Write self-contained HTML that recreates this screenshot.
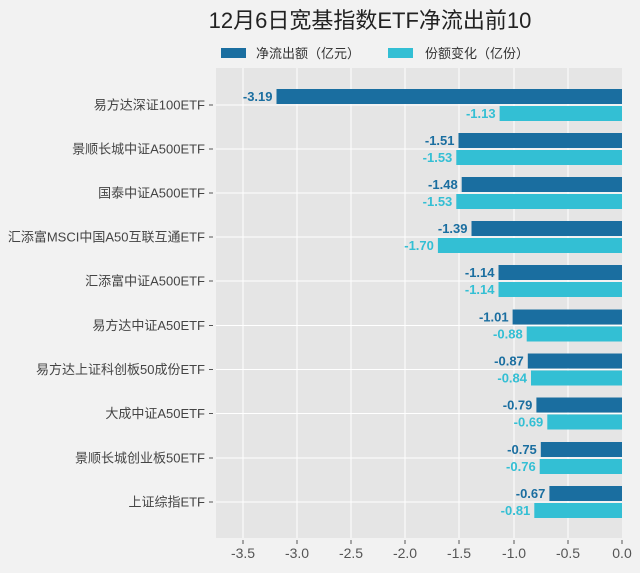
<!DOCTYPE html>
<html><head><meta charset="utf-8"><style>
body{margin:0;background:#f2f2f2}
svg{display:block;font-family:"Liberation Sans","Noto Sans CJK SC",sans-serif}
.l{font-size:13px;fill:#444;text-anchor:end}
.d{font-size:13px;font-weight:bold;fill:#1a6ea0;text-anchor:end}
.b{font-size:13px;font-weight:bold;fill:#33bfd4;text-anchor:end}
</style></head><body>
<svg width="640" height="573" viewBox="0 0 640 573">
<rect width="640" height="573" fill="#f2f2f2"/>
<text x="370" y="28" text-anchor="middle" font-size="22" fill="#222">12月6日宽基指数ETF净流出前10</text>
<rect x="221" y="48" width="25" height="10" fill="#1a6ea0"/>
<text x="256" y="58" font-size="13" fill="#333">净流出额（亿元）</text>
<rect x="388" y="48" width="25" height="10" fill="#33bfd4"/>
<text x="425" y="58" font-size="13" fill="#333">份额变化（亿份）</text>
<rect x="216" y="68" width="406" height="470" fill="#e5e5e5"/>
<g stroke="#fff" stroke-width="1">
<line x1="243" y1="68" x2="243" y2="538"/><line x1="297" y1="68" x2="297" y2="538"/>
<line x1="351" y1="68" x2="351" y2="538"/><line x1="405" y1="68" x2="405" y2="538"/>
<line x1="459" y1="68" x2="459" y2="538"/><line x1="514" y1="68" x2="514" y2="538"/>
<line x1="568" y1="68" x2="568" y2="538"/>
<line x1="216" y1="105" x2="622" y2="105"/><line x1="216" y1="149" x2="622" y2="149"/>
<line x1="216" y1="193" x2="622" y2="193"/><line x1="216" y1="237" x2="622" y2="237"/>
<line x1="216" y1="281" x2="622" y2="281"/><line x1="216" y1="325.5" x2="622" y2="325.5"/>
<line x1="216" y1="369.5" x2="622" y2="369.5"/><line x1="216" y1="413.5" x2="622" y2="413.5"/>
<line x1="216" y1="458" x2="622" y2="458"/><line x1="216" y1="502" x2="622" y2="502"/>
</g>
<g stroke="#555">
<line x1="209" y1="105" x2="213" y2="105"/><line x1="209" y1="149" x2="213" y2="149"/>
<line x1="209" y1="193" x2="213" y2="193"/><line x1="209" y1="237" x2="213" y2="237"/>
<line x1="209" y1="281" x2="213" y2="281"/><line x1="209" y1="325.5" x2="213" y2="325.5"/>
<line x1="209" y1="369.5" x2="213" y2="369.5"/><line x1="209" y1="413.5" x2="213" y2="413.5"/>
<line x1="209" y1="458" x2="213" y2="458"/><line x1="209" y1="502" x2="213" y2="502"/>
</g>
<text class="l" x="205" y="109.5">易方达深证100ETF</text>
<text class="l" x="205" y="153.5">景顺长城中证A500ETF</text>
<text class="l" x="205" y="197.5">国泰中证A500ETF</text>
<text class="l" x="205" y="241.5">汇添富MSCI中国A50互联互通ETF</text>
<text class="l" x="205" y="285.5">汇添富中证A500ETF</text>
<text class="l" x="205" y="330">易方达中证A50ETF</text>
<text class="l" x="205" y="374">易方达上证科创板50成份ETF</text>
<text class="l" x="205" y="418">大成中证A50ETF</text>
<text class="l" x="205" y="462.5">景顺长城创业板50ETF</text>
<text class="l" x="205" y="506.5">上证综指ETF</text>
<g fill="#1a6ea0">
<rect x="276.5" y="89" width="345.5" height="15"/>
<rect x="458.5" y="133" width="163.5" height="15"/>
<rect x="461.7" y="177" width="160.3" height="15"/>
<rect x="471.5" y="221" width="150.5" height="15"/>
<rect x="498.5" y="265" width="123.5" height="15"/>
<rect x="512.6" y="309.5" width="109.4" height="15"/>
<rect x="527.8" y="353.5" width="94.2" height="15"/>
<rect x="536.4" y="397.5" width="85.6" height="15"/>
<rect x="540.8" y="442" width="81.2" height="15"/>
<rect x="549.4" y="486" width="72.6" height="15"/>
</g>
<g fill="#33bfd4">
<rect x="499.6" y="106" width="122.4" height="15"/>
<rect x="456.3" y="150" width="165.7" height="15"/>
<rect x="456.3" y="194" width="165.7" height="15"/>
<rect x="437.9" y="238" width="184.1" height="15"/>
<rect x="498.5" y="282" width="123.5" height="15"/>
<rect x="526.7" y="326.5" width="95.3" height="15"/>
<rect x="531" y="370.5" width="91" height="15"/>
<rect x="547.3" y="414.5" width="74.7" height="15"/>
<rect x="539.7" y="459" width="82.3" height="15"/>
<rect x="534.3" y="503" width="87.7" height="15"/>
</g>
<text class="d" x="272.5" y="101">-3.19</text>
<text class="d" x="454.5" y="145">-1.51</text>
<text class="d" x="457.7" y="189">-1.48</text>
<text class="d" x="467.5" y="233">-1.39</text>
<text class="d" x="494.5" y="277">-1.14</text>
<text class="d" x="508.6" y="321.5">-1.01</text>
<text class="d" x="523.8" y="365.5">-0.87</text>
<text class="d" x="532.4" y="409.5">-0.79</text>
<text class="d" x="536.8" y="454">-0.75</text>
<text class="d" x="545.4" y="498">-0.67</text>
<text class="b" x="495.6" y="118">-1.13</text>
<text class="b" x="452.3" y="162">-1.53</text>
<text class="b" x="452.3" y="206">-1.53</text>
<text class="b" x="433.9" y="250">-1.70</text>
<text class="b" x="494.5" y="294">-1.14</text>
<text class="b" x="522.7" y="338.5">-0.88</text>
<text class="b" x="527" y="382.5">-0.84</text>
<text class="b" x="543.3" y="426.5">-0.69</text>
<text class="b" x="535.7" y="471">-0.76</text>
<text class="b" x="530.3" y="515">-0.81</text>
<g font-size="14" fill="#555" text-anchor="middle">
<text x="243" y="558">-3.5</text><text x="297" y="558">-3.0</text><text x="351" y="558">-2.5</text>
<text x="405" y="558">-2.0</text><text x="459" y="558">-1.5</text><text x="514" y="558">-1.0</text>
<text x="568" y="558">-0.5</text><text x="622" y="558">0.0</text>
</g>
<g stroke="#555"><line x1="243" y1="540" x2="243" y2="544"/><line x1="297" y1="540" x2="297" y2="544"/><line x1="351" y1="540" x2="351" y2="544"/><line x1="405" y1="540" x2="405" y2="544"/><line x1="459" y1="540" x2="459" y2="544"/><line x1="514" y1="540" x2="514" y2="544"/><line x1="568" y1="540" x2="568" y2="544"/><line x1="622" y1="540" x2="622" y2="544"/></g>
</svg>
</body></html>
